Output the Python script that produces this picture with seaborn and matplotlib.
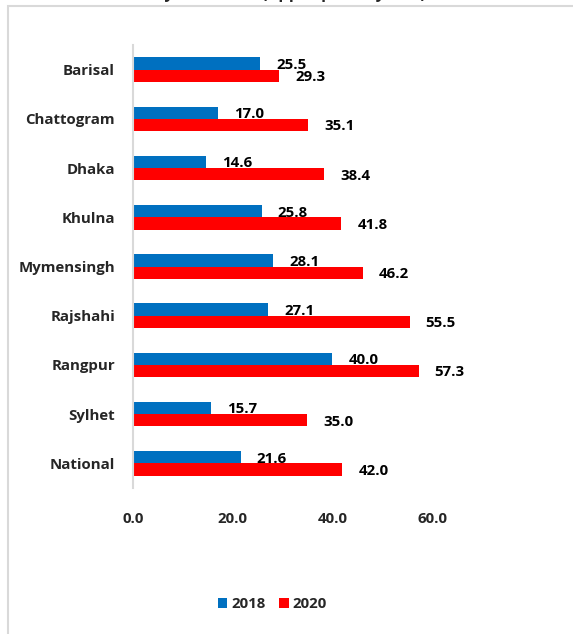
import matplotlib
matplotlib.use("Agg")
import matplotlib.pyplot as plt
import seaborn as sns
import pandas as pd
from matplotlib.patches import Rectangle

divisions = ["Barisal", "Chattogram", "Dhaka", "Khulna", "Mymensingh",
             "Rajshahi", "Rangpur", "Sylhet", "National"]
values_2018 = [25.5, 17.0, 14.6, 25.8, 28.1, 27.1, 40.0, 15.7, 21.6]
values_2020 = [29.3, 35.1, 38.4, 41.8, 46.2, 55.5, 57.3, 35.0, 42.0]
years = ["2018", "2020"]
colors = ["#0070C0", "#FF0000"]
x_ticks = [0, 20, 40, 60]
title = "Poverty incidence (upper poverty line)"

df = pd.DataFrame({
    "Division": divisions * 2,
    "Value": values_2018 + values_2020,
    "Year": [years[0]] * len(divisions) + [years[1]] * len(divisions),
})

sns.set_style("white")
plt.rcParams["font.family"] = ["Open Sans", "DejaVu Sans"]
plt.rcParams["font.weight"] = "bold"
FS = 10.8

W, H = 573, 634
fig = plt.figure(figsize=(W / 100, H / 100), dpi=100)

# outer chart frame
fig.patches.append(Rectangle((8 / W, -0.1), 1.2, (H - 6) / H + 0.1,
                             transform=fig.transFigure, fill=False,
                             edgecolor="#D9D9D9", linewidth=1.5))

ax = fig.add_axes([133 / W, (H - 488) / H, 299 / W, 443 / H])
sns.barplot(data=df, y="Division", x="Value", hue="Year", orient="h",
            palette=colors, saturation=1, width=0.5, ax=ax, legend=True,
            edgecolor="none", linewidth=0)

ax.set_xlim(0, 60)
ax.set_ylim(len(divisions) - 0.5, -0.5)
ax.set_xticks(x_ticks)
ax.set_xticklabels([f"{t:.1f}" for t in x_ticks], fontsize=FS, fontweight="bold")
ax.tick_params(axis="x", length=0, pad=17)
ax.tick_params(axis="y", length=0, pad=13)
for lab in ax.get_yticklabels():
    lab.set_fontsize(FS)
    lab.set_fontweight("bold")
ax.set_xlabel("")
ax.set_ylabel("")
for s in ["top", "right", "bottom"]:
    ax.spines[s].set_visible(False)
ax.spines["left"].set_color("#D9D9D9")
ax.spines["left"].set_linewidth(1.5)

for container in ax.containers:
    for bar in container:
        w = bar.get_width()
        yc = bar.get_y() + bar.get_height() / 2
        ax.annotate(f"{w:.1f}", xy=(w, yc), xytext=(11.5, -1),
                    textcoords="offset points", ha="left", va="center",
                    fontsize=FS, fontweight="bold", color="black",
                    annotation_clip=False)

leg = ax.legend(loc="center", bbox_to_anchor=(272 / W, (H - 604) / H),
                bbox_transform=fig.transFigure, ncol=2, frameon=False,
                handlelength=0.65, handleheight=0.65, handletextpad=0.25,
                columnspacing=0.9, prop={"size": FS, "weight": "bold"})

fig.text(268 / W, 1 + 1.5 / H, title, ha="center", va="baseline",
         fontsize=12, fontweight="bold")

fig.savefig("out.png", dpi=100)
